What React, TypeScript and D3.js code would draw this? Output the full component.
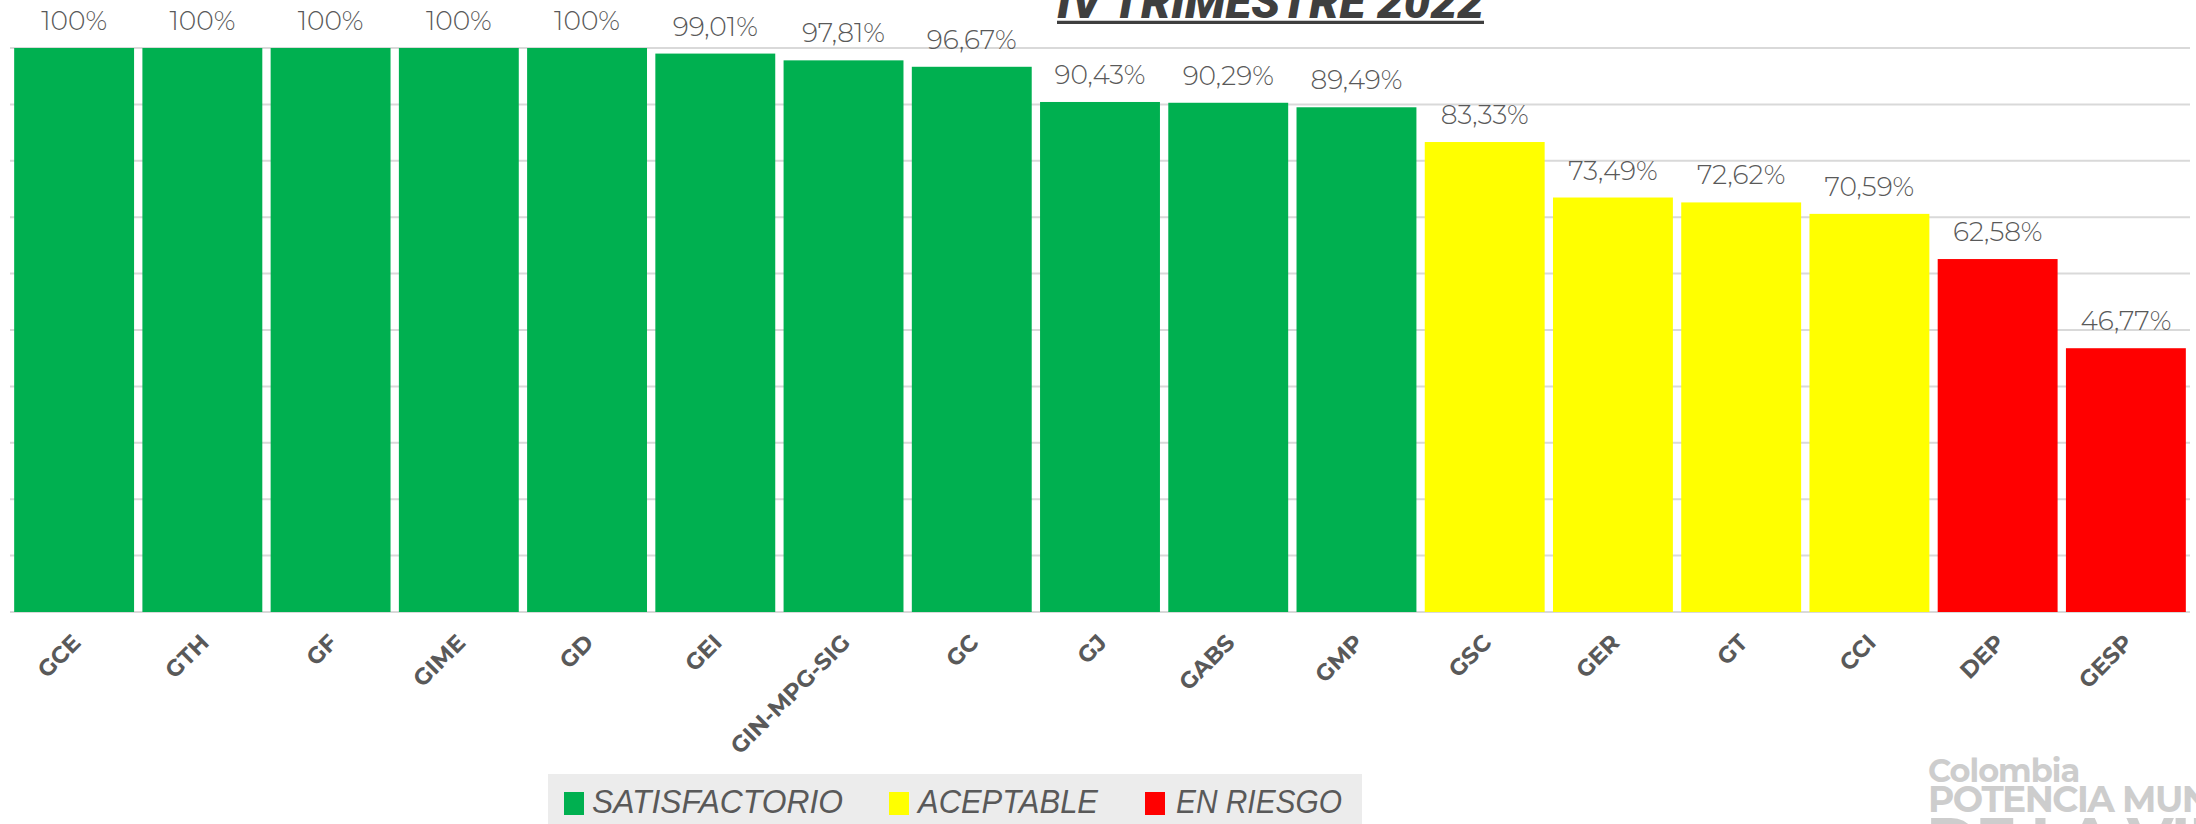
import React, { useMemo } from 'react';
import { scaleBand, scaleLinear, range } from 'd3';

const W = 2196;
const H = 824;

const categories = ['GCE', 'GTH', 'GF', 'GIME', 'GD', 'GEI', 'GIN-MPG-SIG', 'GC', 'GJ', 'GABS', 'GMP', 'GSC', 'GER', 'GT', 'CCI', 'DEP', 'GESP'];
const values = [100, 100, 100, 100, 100, 99.01, 97.81, 96.67, 90.43, 90.29, 89.49, 83.33, 73.49, 72.62, 70.59, 62.58, 46.77];
const status = ['S', 'S', 'S', 'S', 'S', 'S', 'S', 'S', 'S', 'S', 'S', 'A', 'A', 'A', 'A', 'R', 'R'];
const gridTicks = range(0, 101, 10);

const legendItems = [
  { key: 'S', label: 'SATISFACTORIO', color: '#00b050', x: 564, tx: 592, tw: 251 },
  { key: 'A', label: 'ACEPTABLE', color: '#ffff00', x: 889, tx: 918, tw: 180 },
  { key: 'R', label: 'EN RIESGO', color: '#ff0000', x: 1145, tx: 1176, tw: 166 },
];
const statusColor = { S: '#00b050', A: '#ffff00', R: '#ff0000' };

const TXT = '#595959';
const GRID = '#d9d9d9';

const fmt = (v: number) => (v === 100 ? '100%' : v.toFixed(2).replace('.', ',') + '%');

export default function App() {
  const x = useMemo(
    () => scaleBand<string>().domain(categories).range([10, 2190]).paddingInner(0.065).paddingOuter(0.0325),
    [],
  );
  const y = useMemo(() => scaleLinear().domain([0, 100]).range([612, 48]), []);

  return (
    <svg
      width={W}
      height={H}
      viewBox={`0 0 ${W} ${H}`}
      style={{ position: 'absolute', left: 0, top: 0, background: '#fff' }}
    >
      {/* gridlines */}
      {gridTicks.map((t) => (
        <line key={t} x1={10} x2={2190} y1={y(t)} y2={y(t)} stroke={GRID} strokeWidth={2} />
      ))}

      {/* bars */}
      {categories.map((c, i) => (
        <rect
          key={c}
          x={x(c)}
          y={y(values[i])}
          width={x.bandwidth()}
          height={y(0) - y(values[i])}
          fill={statusColor[status[i]]}
        />
      ))}

      {/* value labels */}
      {categories.map((c, i) => (
        <text
          key={c}
          x={(x(c) || 0) + x.bandwidth() / 2}
          y={y(values[i]) - 18}
          textAnchor="middle"
          fontFamily="Montserrat, 'Noto Sans', sans-serif"
          fontWeight={300}
          fontSize={26.5}
          fill={TXT}
        >
          {fmt(values[i])}
        </text>
      ))}

      {/* category labels */}
      {categories.map((c) => {
        const cx = (x(c) || 0) + x.bandwidth() / 2 + 8;
        const cy = 644;
        return (
          <text
            key={c}
            transform={`translate(${cx},${cy}) rotate(-45)`}
            textAnchor="end"
            fontFamily="Montserrat, 'DejaVu Sans', sans-serif"
            fontWeight="bold"
            fontSize={23}
            fill={TXT}
          >
            {c}
          </text>
        );
      })}

      {/* title */}
      <text
        x={1057}
        y={18}
        textLength={427}
        lengthAdjust="spacingAndGlyphs"
        fontFamily="Roboto, 'DejaVu Sans', sans-serif"
        fontWeight={900}
        fontStyle="italic"
        fontSize={46}
        fill="#3f3f3f"
      >
        IV TRIMESTRE 2022
      </text>
      <line x1={1057} x2={1484} y1={22.3} y2={22.3} stroke="#3f3f3f" strokeWidth={3.3} />

      {/* legend */}
      <rect x={548} y={774} width={814} height={60} fill="#ececec" />
      {legendItems.map((d) => (
        <g key={d.key}>
          <rect x={d.x} y={792} width={20} height={23} fill={d.color} />
          <text
            x={d.tx}
            y={813}
            textLength={d.tw}
            lengthAdjust="spacingAndGlyphs"
            fontFamily="'Liberation Sans Narrow', 'Liberation Sans', sans-serif"
            fontStyle="italic"
            fontSize={34}
            fill={TXT}
          >
            {d.label}
          </text>
        </g>
      ))}

      {/* watermark logo */}
      <g fontFamily="Montserrat, 'DejaVu Sans', sans-serif" fontWeight="bold" fill="#cdcdcd">
        <text x={1928} y={782} fontSize={32} letterSpacing={-1}>Colombia</text>
        <text x={1928} y={812} fontSize={36} letterSpacing={-1.5}>POTENCIA MUNDIAL</text>
        <text x={1926} y={862} fontSize={62} letterSpacing={-2}>DE LA VIDA</text>
      </g>
    </svg>
  );
}
